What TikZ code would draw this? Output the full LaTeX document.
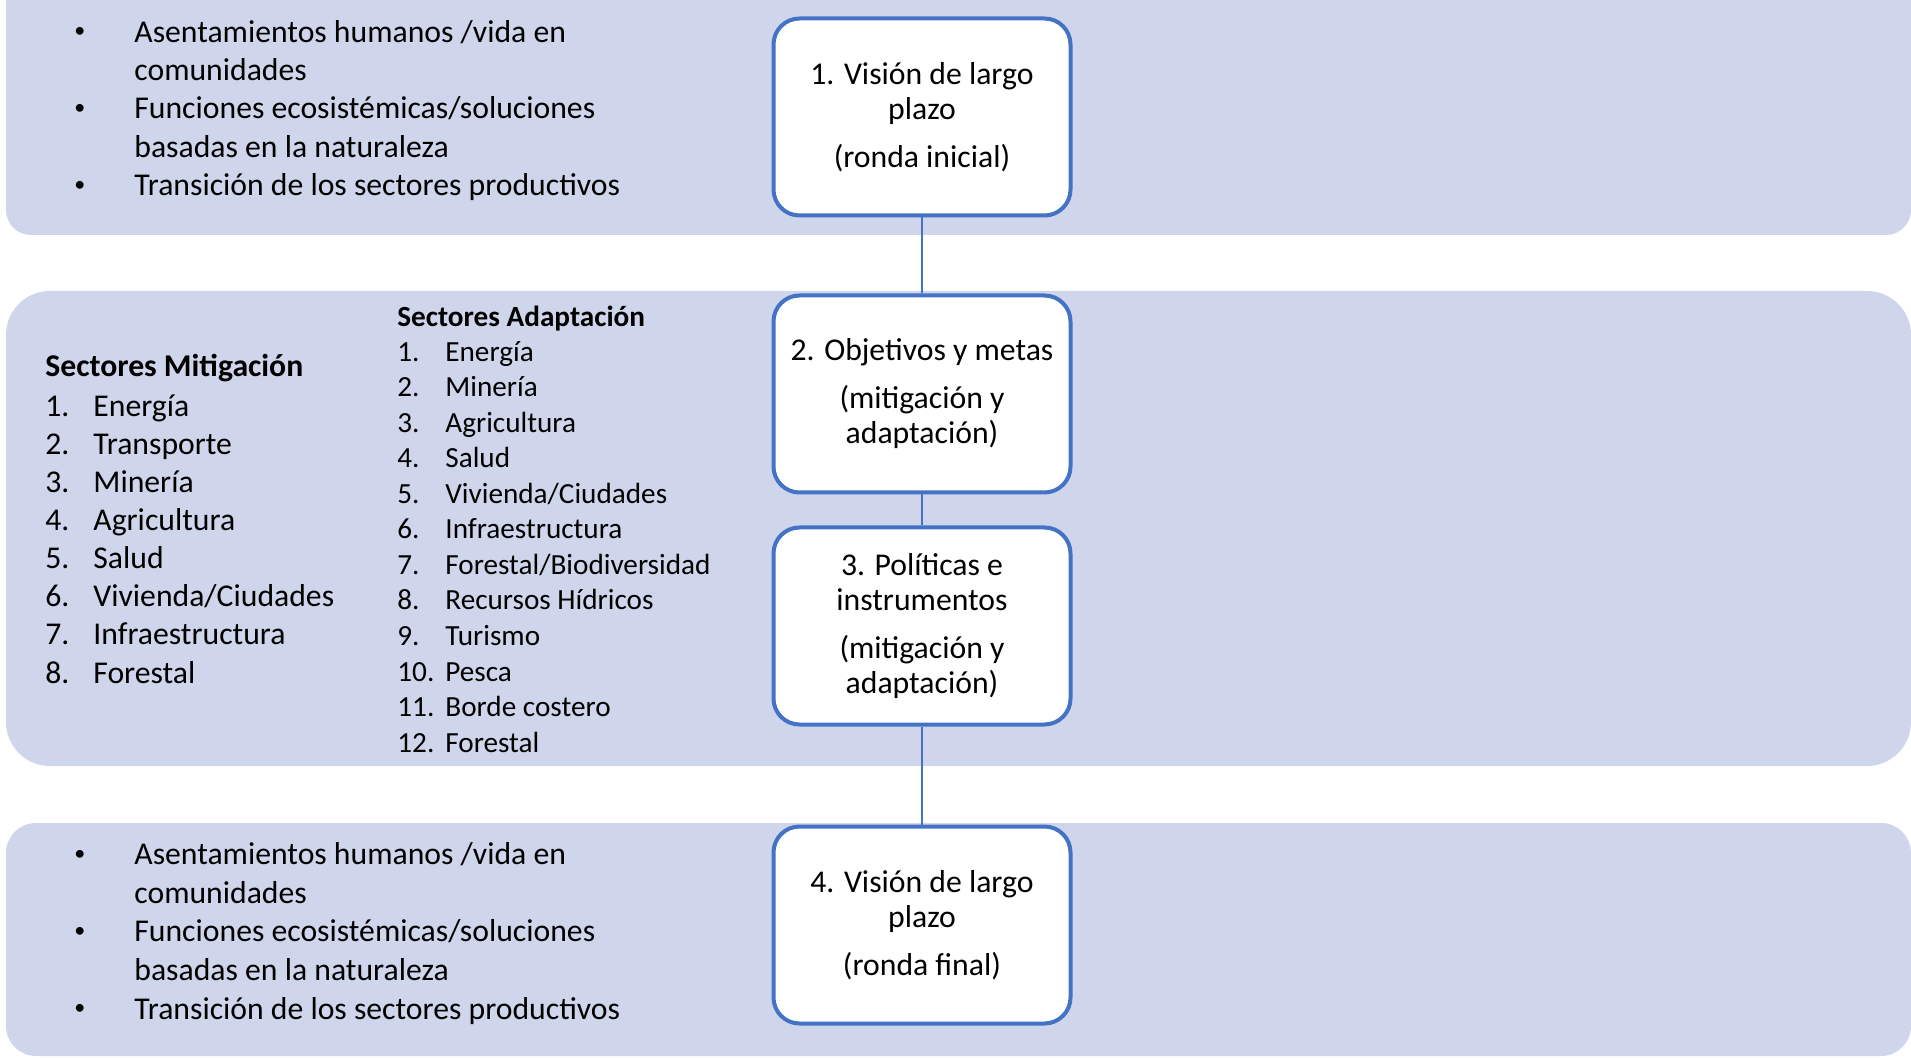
\documentclass[tikz,border=0pt]{standalone}
\usepackage{fontspec}
\setmainfont{Carlito}
\usetikzlibrary{positioning}
\definecolor{bandfill}{RGB}{207,213,234}
\definecolor{stepblue}{RGB}{68,114,196}

\begin{document}
\begin{tikzpicture}[x=0.5pt,y=-0.5pt,
  stepbox/.style={draw=stepblue,line width=2pt,fill=white,rounded corners=13pt,
    minimum width=148.5pt,minimum height=98.5pt,align=center,inner sep=0pt,
    font=\fontsize{15.85}{17.5}\selectfont},
  conn/.style={stepblue,line width=1.2pt},
  listline/.style={anchor=west,inner sep=0pt,text height=10.3pt,text depth=0pt,
    font=\fontsize{15.85}{19.2}\selectfont},
  listsmall/.style={listline,text height=9.5pt,font=\fontsize{14.6}{17.6}\selectfont},
  bullet/.style={listline,text height=6pt,font=\fontsize{11}{13}\selectfont}]
\clip (0,0) rectangle (1911,1058);

% Bands
\fill[bandfill,rounded corners=12.5pt] (6,-60) rectangle (1911,235);
\fill[bandfill,rounded corners=22pt] (6,291) rectangle (1911,766);
\fill[bandfill,rounded corners=15pt] (6,823) rectangle (1911,1056);

% Steps
\node[stepbox] (v1) at (922,117) {1. Visión de largo\\plazo\\[6.5pt](ronda inicial)};
\node[stepbox,below=38pt of v1] (v2) {2. Objetivos y metas\\[6.5pt](mitigación y\\adaptación)};
\node[stepbox,below=15.5pt of v2] (v3) {3. Políticas e\\instrumentos\\[6.5pt](mitigación y\\adaptación)};
\node[stepbox,below=49pt of v3] (v4) {4. Visión de largo\\plazo\\[6.5pt](ronda final)};

\draw[conn] (v1) -- (v2);
\draw[conn] (v2) -- (v3);
\draw[conn] (v3) -- (v4);

% Top band list
\foreach \txt [count=\i] in {{Asentamientos humanos /vida en}, comunidades,
    {Funciones ecosistémicas/soluciones}, {basadas en la naturaleza},
    {Transición de los sectores productivos}}
  \node[listline] (top\i) at (134,{32+38.3*(\i-1)}) {\txt};
\foreach \i in {1,3,5}
  \node[bullet] (topb\i) at (74,{32+38.3*(\i-1)}) {•};

% Mitigation sectors
\node[listline,font=\fontsize{15.85}{19.2}\selectfont\bfseries] (mittitle) at (45,366) {Sectores Mitigación};
\foreach \txt [count=\i] in {Energía, Transporte, Minería, Agricultura, Salud,
    Vivienda/Ciudades, Infraestructura, Forestal} {
  \node[listline] (mitn\i) at (45,{406+38.1*(\i-1)}) {\i.};
  \node[listline] (mit\i) at (93,{406+38.1*(\i-1)}) {\txt};
}

% Adaptation sectors
\node[listsmall,font=\fontsize{14.6}{17.6}\selectfont\bfseries] (adatitle) at (397,317) {Sectores Adaptación};
\foreach \txt [count=\i] in {Energía, Minería, Agricultura, Salud, Vivienda/Ciudades,
    Infraestructura, Forestal/Biodiversidad, Recursos Hídricos, Turismo, Pesca,
    Borde costero, Forestal} {
  \node[listsmall] (adan\i) at (397,{352+35.5*(\i-1)}) {\i.};
  \node[listsmall] (ada\i) at (445,{352+35.5*(\i-1)}) {\txt};
}

% Bottom band list
\foreach \txt [count=\i] in {{Asentamientos humanos /vida en}, comunidades,
    {Funciones ecosistémicas/soluciones}, {basadas en la naturaleza},
    {Transición de los sectores productivos}}
  \node[listline] (bot\i) at (134,{854+38.7*(\i-1)}) {\txt};
\foreach \i in {1,3,5}
  \node[bullet] (botb\i) at (74,{854+38.7*(\i-1)}) {•};

\end{tikzpicture}
\end{document}
